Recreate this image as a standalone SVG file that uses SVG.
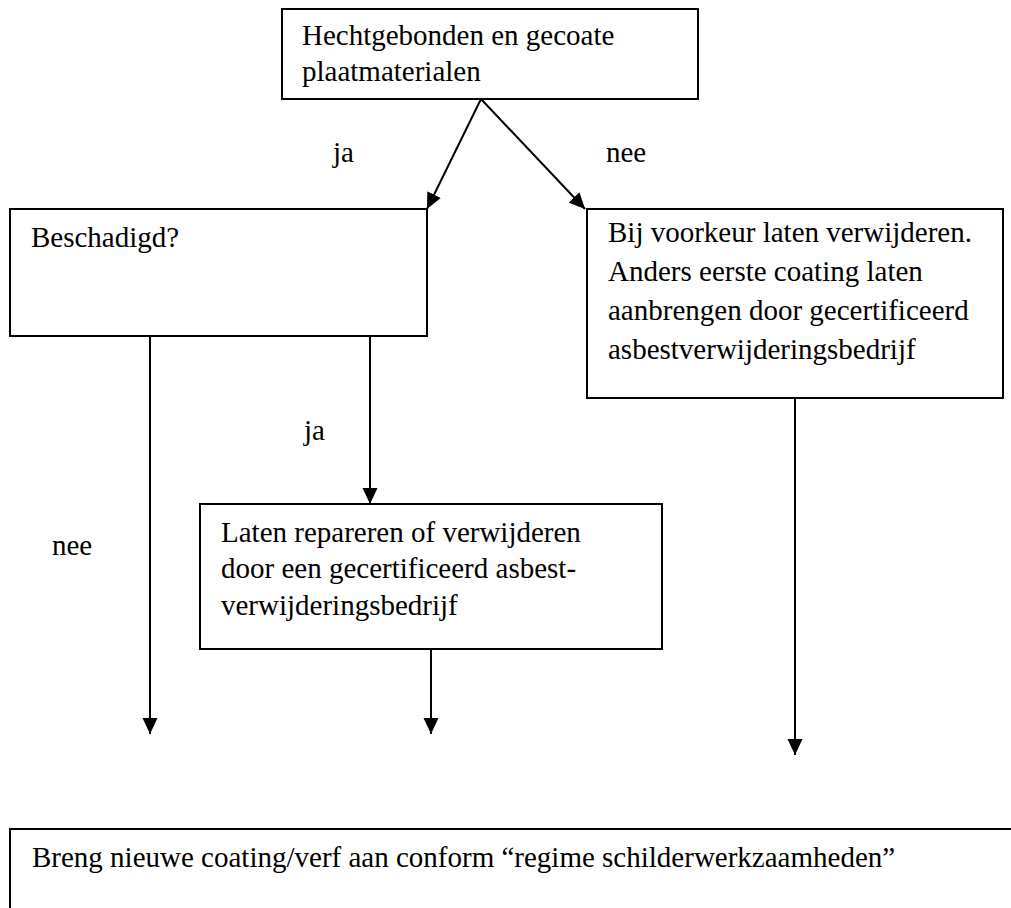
<svg xmlns="http://www.w3.org/2000/svg" width="1011" height="908" viewBox="0 0 1011 908">
  <style>
    .box { fill: #ffffff; stroke: #000000; stroke-width: 2; }
    .t { font-family: "Liberation Serif", "Times New Roman", "DejaVu Serif", serif; font-size: 29px; fill: #000000; }
    .c { stroke: #000000; stroke-width: 2; fill: none; }
  </style>
  <defs>
    <marker id="arrow" markerUnits="userSpaceOnUse" markerWidth="16" markerHeight="16" refX="16" refY="7.5" orient="auto" viewBox="0 0 16 15">
      <path d="M0,0 L16,7.5 L0,15 Z" fill="#000000"/>
    </marker>
  </defs>
  <rect width="1011" height="908" fill="#ffffff"/>

  <g id="node-top">
    <rect class="box" x="282" y="9" width="416" height="90"/>
    <text class="t" x="302" y="45">Hechtgebonden en gecoate</text>
    <text class="t" x="302" y="81">plaatmaterialen</text>
  </g>

  <g id="node-beschadigd">
    <rect class="box" x="10" y="209" width="417" height="127"/>
    <text class="t" x="31" y="247">Beschadigd?</text>
  </g>

  <g id="node-verwijderen">
    <rect class="box" x="587" y="209" width="416" height="189"/>
    <text class="t" x="608" y="242">Bij voorkeur laten verwijderen.</text>
    <text class="t" x="608" y="281">Anders eerste coating laten</text>
    <text class="t" x="608" y="320">aanbrengen door gecertificeerd</text>
    <text class="t" x="608" y="359">asbestverwijderingsbedrijf</text>
  </g>

  <g id="node-repareren">
    <rect class="box" x="200" y="504" width="462" height="145"/>
    <text class="t" x="221" y="542">Laten repareren of verwijderen</text>
    <text class="t" x="221" y="578">door een gecertificeerd asbest-</text>
    <text class="t" x="221" y="615">verwijderingsbedrijf</text>
  </g>

  <g id="node-coating">
    <rect class="box" x="10" y="829" width="1020" height="100"/>
    <text class="t" x="32" y="867">Breng nieuwe coating/verf aan conform “regime schilderwerkzaamheden”</text>
  </g>

  <g id="connectors">
    <line class="c" x1="481" y1="99" x2="427" y2="209" marker-end="url(#arrow)"/>
    <line class="c" x1="481" y1="99" x2="585" y2="209" marker-end="url(#arrow)"/>
    <line class="c" x1="150" y1="336" x2="150" y2="734" marker-end="url(#arrow)"/>
    <line class="c" x1="370" y1="336" x2="370" y2="504" marker-end="url(#arrow)"/>
    <line class="c" x1="431" y1="649" x2="431" y2="734" marker-end="url(#arrow)"/>
    <line class="c" x1="795" y1="398" x2="795" y2="755" marker-end="url(#arrow)"/>
  </g>

  <g id="labels">
    <text class="t" x="333" y="162">ja</text>
    <text class="t" x="606" y="162">nee</text>
    <text class="t" x="304" y="440">ja</text>
    <text class="t" x="52" y="555">nee</text>
  </g>
</svg>
